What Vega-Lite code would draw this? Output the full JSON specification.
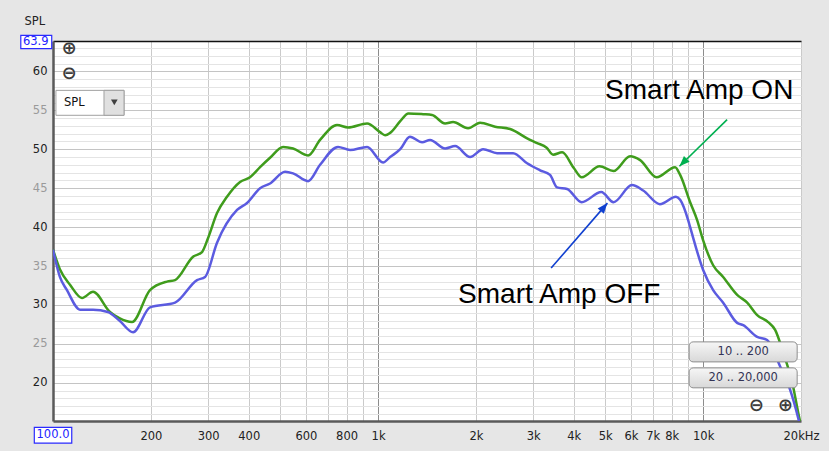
{
  "$schema": "https://vega.github.io/schema/vega-lite/v6.json",
  "width": 748,
  "height": 380,
  "autosize": {"type": "none"},
  "padding": {"left": 53, "top": 41, "right": 28, "bottom": 30},
  "background": "#e6e6e6",
  "config": {"view": {"fill": "white", "stroke": null}, "font": "DejaVu Sans"},
  "datasets": {
    "curves": [
      {"s": "Smart Amp ON", "f": 100, "db": 37.1},
      {"s": "Smart Amp ON", "f": 105, "db": 34.6},
      {"s": "Smart Amp ON", "f": 112.8, "db": 32.6},
      {"s": "Smart Amp ON", "f": 122.8, "db": 30.9},
      {"s": "Smart Amp ON", "f": 132.8, "db": 31.7},
      {"s": "Smart Amp ON", "f": 149.7, "db": 29.1},
      {"s": "Smart Amp ON", "f": 160, "db": 28.3},
      {"s": "Smart Amp ON", "f": 175, "db": 27.8},
      {"s": "Smart Amp ON", "f": 198.8, "db": 31.9},
      {"s": "Smart Amp ON", "f": 224.2, "db": 33.0},
      {"s": "Smart Amp ON", "f": 237.4, "db": 33.2},
      {"s": "Smart Amp ON", "f": 269.7, "db": 36.2},
      {"s": "Smart Amp ON", "f": 287.4, "db": 36.8},
      {"s": "Smart Amp ON", "f": 300, "db": 38.6},
      {"s": "Smart Amp ON", "f": 319.6, "db": 41.8},
      {"s": "Smart Amp ON", "f": 343, "db": 43.9},
      {"s": "Smart Amp ON", "f": 376.2, "db": 45.8},
      {"s": "Smart Amp ON", "f": 403.8, "db": 46.4},
      {"s": "Smart Amp ON", "f": 433.5, "db": 47.7},
      {"s": "Smart Amp ON", "f": 465.3, "db": 48.9},
      {"s": "Smart Amp ON", "f": 510.2, "db": 50.3},
      {"s": "Smart Amp ON", "f": 547.6, "db": 50.1},
      {"s": "Smart Amp ON", "f": 609, "db": 49.2},
      {"s": "Smart Amp ON", "f": 663.1, "db": 51.2},
      {"s": "Smart Amp ON", "f": 747.6, "db": 53.1},
      {"s": "Smart Amp ON", "f": 808.7, "db": 52.8},
      {"s": "Smart Amp ON", "f": 925, "db": 53.3},
      {"s": "Smart Amp ON", "f": 1014, "db": 52.2},
      {"s": "Smart Amp ON", "f": 1051, "db": 51.8},
      {"s": "Smart Amp ON", "f": 1089, "db": 52.1},
      {"s": "Smart Amp ON", "f": 1170, "db": 53.6},
      {"s": "Smart Amp ON", "f": 1240, "db": 54.6},
      {"s": "Smart Amp ON", "f": 1376, "db": 54.5},
      {"s": "Smart Amp ON", "f": 1466, "db": 54.4},
      {"s": "Smart Amp ON", "f": 1608, "db": 53.3},
      {"s": "Smart Amp ON", "f": 1701, "db": 53.5},
      {"s": "Smart Amp ON", "f": 1892, "db": 52.7},
      {"s": "Smart Amp ON", "f": 2060, "db": 53.4},
      {"s": "Smart Amp ON", "f": 2291, "db": 52.9},
      {"s": "Smart Amp ON", "f": 2548, "db": 52.6},
      {"s": "Smart Amp ON", "f": 2874, "db": 51.4},
      {"s": "Smart Amp ON", "f": 3085, "db": 50.8},
      {"s": "Smart Amp ON", "f": 3300, "db": 50.2},
      {"s": "Smart Amp ON", "f": 3455, "db": 49.3},
      {"s": "Smart Amp ON", "f": 3684, "db": 49.6},
      {"s": "Smart Amp ON", "f": 4000, "db": 47.6},
      {"s": "Smart Amp ON", "f": 4230, "db": 46.4},
      {"s": "Smart Amp ON", "f": 4800, "db": 47.8},
      {"s": "Smart Amp ON", "f": 5300, "db": 47.2},
      {"s": "Smart Amp ON", "f": 5960, "db": 49.1},
      {"s": "Smart Amp ON", "f": 6402, "db": 48.6},
      {"s": "Smart Amp ON", "f": 7190, "db": 46.4},
      {"s": "Smart Amp ON", "f": 8200, "db": 47.7},
      {"s": "Smart Amp ON", "f": 8497, "db": 46.7},
      {"s": "Smart Amp ON", "f": 9120, "db": 43.2},
      {"s": "Smart Amp ON", "f": 9583, "db": 40.9},
      {"s": "Smart Amp ON", "f": 10000, "db": 38.3},
      {"s": "Smart Amp ON", "f": 10735, "db": 35.1},
      {"s": "Smart Amp ON", "f": 11523, "db": 33.6},
      {"s": "Smart Amp ON", "f": 12724, "db": 31.3},
      {"s": "Smart Amp ON", "f": 13660, "db": 30.3},
      {"s": "Smart Amp ON", "f": 14665, "db": 28.7},
      {"s": "Smart Amp ON", "f": 15849, "db": 27.8},
      {"s": "Smart Amp ON", "f": 16652, "db": 26.8},
      {"s": "Smart Amp ON", "f": 17630, "db": 23.9},
      {"s": "Smart Amp ON", "f": 18918, "db": 19.5},
      {"s": "Smart Amp ON", "f": 19602, "db": 16.2},
      {"s": "Smart Amp ON", "f": 20000, "db": 14.5},
      {"s": "Smart Amp OFF", "f": 100, "db": 37.1},
      {"s": "Smart Amp OFF", "f": 105, "db": 33.6},
      {"s": "Smart Amp OFF", "f": 110.4, "db": 31.9},
      {"s": "Smart Amp OFF", "f": 121.1, "db": 29.4},
      {"s": "Smart Amp OFF", "f": 132.8, "db": 29.4},
      {"s": "Smart Amp OFF", "f": 147.6, "db": 29.1},
      {"s": "Smart Amp OFF", "f": 160, "db": 28.0},
      {"s": "Smart Amp OFF", "f": 176.3, "db": 26.5},
      {"s": "Smart Amp OFF", "f": 198.8, "db": 29.7},
      {"s": "Smart Amp OFF", "f": 237.4, "db": 30.3},
      {"s": "Smart Amp OFF", "f": 277.4, "db": 33.2},
      {"s": "Smart Amp OFF", "f": 293.6, "db": 33.6},
      {"s": "Smart Amp OFF", "f": 319.6, "db": 38.0},
      {"s": "Smart Amp OFF", "f": 368.3, "db": 42.2},
      {"s": "Smart Amp OFF", "f": 395.3, "db": 43.1},
      {"s": "Smart Amp OFF", "f": 433.5, "db": 45.0},
      {"s": "Smart Amp OFF", "f": 465.3, "db": 45.6},
      {"s": "Smart Amp OFF", "f": 517.5, "db": 47.1},
      {"s": "Smart Amp OFF", "f": 547.6, "db": 46.9},
      {"s": "Smart Amp OFF", "f": 609, "db": 45.9},
      {"s": "Smart Amp OFF", "f": 663.1, "db": 48.0},
      {"s": "Smart Amp OFF", "f": 753, "db": 50.3},
      {"s": "Smart Amp OFF", "f": 820.2, "db": 49.9},
      {"s": "Smart Amp OFF", "f": 925, "db": 50.3},
      {"s": "Smart Amp OFF", "f": 1036, "db": 48.3},
      {"s": "Smart Amp OFF", "f": 1089, "db": 49.0},
      {"s": "Smart Amp OFF", "f": 1170, "db": 50.0},
      {"s": "Smart Amp OFF", "f": 1253, "db": 51.6},
      {"s": "Smart Amp OFF", "f": 1366, "db": 50.9},
      {"s": "Smart Amp OFF", "f": 1445, "db": 51.2},
      {"s": "Smart Amp OFF", "f": 1608, "db": 50.1},
      {"s": "Smart Amp OFF", "f": 1726, "db": 50.4},
      {"s": "Smart Amp OFF", "f": 1919, "db": 49.0},
      {"s": "Smart Amp OFF", "f": 2104, "db": 50.0},
      {"s": "Smart Amp OFF", "f": 2324, "db": 49.5},
      {"s": "Smart Amp OFF", "f": 2603, "db": 49.5},
      {"s": "Smart Amp OFF", "f": 2874, "db": 48.2},
      {"s": "Smart Amp OFF", "f": 3150, "db": 47.3},
      {"s": "Smart Amp OFF", "f": 3380, "db": 46.7},
      {"s": "Smart Amp OFF", "f": 3554, "db": 45.1},
      {"s": "Smart Amp OFF", "f": 3815, "db": 44.9},
      {"s": "Smart Amp OFF", "f": 4230, "db": 43.2},
      {"s": "Smart Amp OFF", "f": 4860, "db": 44.5},
      {"s": "Smart Amp OFF", "f": 5300, "db": 43.2},
      {"s": "Smart Amp OFF", "f": 6040, "db": 45.4},
      {"s": "Smart Amp OFF", "f": 6540, "db": 44.7},
      {"s": "Smart Amp OFF", "f": 7360, "db": 42.95},
      {"s": "Smart Amp OFF", "f": 8250, "db": 43.9},
      {"s": "Smart Amp OFF", "f": 8497, "db": 43.5},
      {"s": "Smart Amp OFF", "f": 8991, "db": 40.9},
      {"s": "Smart Amp OFF", "f": 9120, "db": 40.0},
      {"s": "Smart Amp OFF", "f": 10000, "db": 34.5},
      {"s": "Smart Amp OFF", "f": 10735, "db": 31.9},
      {"s": "Smart Amp OFF", "f": 11523, "db": 30.3},
      {"s": "Smart Amp OFF", "f": 12724, "db": 27.7},
      {"s": "Smart Amp OFF", "f": 13278, "db": 27.4},
      {"s": "Smart Amp OFF", "f": 14665, "db": 25.9},
      {"s": "Smart Amp OFF", "f": 15736, "db": 25.5},
      {"s": "Smart Amp OFF", "f": 17256, "db": 22.1},
      {"s": "Smart Amp OFF", "f": 18520, "db": 19.1},
      {"s": "Smart Amp OFF", "f": 19602, "db": 15.5},
      {"s": "Smart Amp OFF", "f": 20000, "db": 14.0}
    ]
  },
  "layer": [
    {
      "data": {"name": "curves"},
      "mark": {"type": "line", "interpolate": "monotone", "strokeWidth": 2.5, "clip": true},
      "encoding": {
        "x": {
          "field": "f", "type": "quantitative",
          "scale": {"type": "log", "domain": [100, 20000], "nice": false},
          "axis": {
            "title": null,
            "tickCount": 200,
            "values": [100, 200, 300, 400, 500, 600, 700, 800, 900, 1000, 2000, 3000, 4000, 5000, 6000, 7000, 8000, 9000, 10000, 20000],
            "labelExpr": "datum.value == 100 || datum.value == 500 || datum.value == 700 || datum.value == 900 || datum.value == 9000 ? '' : datum.value == 20000 ? '20kHz' : datum.value >= 1000 ? (datum.value / 1000) + 'k' : '' + datum.value",
            "grid": true,
            "gridColor": {"condition": {"test": "datum.value == 1000 || datum.value == 10000", "value": "#8c8c8c"}, "value": "#cacaca"},
            "gridWidth": 1,
            "ticks": false,
            "tickSize": 0,
            "domainColor": "#5a5a5a",
            "domainWidth": 2.5,
            "labelFont": "DejaVu Sans",
            "labelFontSize": 11.5,
            "labelColor": "#222222",
            "labelPadding": 9,
            "labelOverlap": false,
            "labelFlush": false,
            "labelBound": false
          }
        },
        "y": {
          "field": "db", "type": "quantitative",
          "scale": {"domain": [15.1, 63.9], "nice": false, "zero": false},
          "axis": {
            "title": "SPL",
            "titleAngle": 0,
            "titleAlign": "left",
            "titleBaseline": "middle",
            "titleX": -29,
            "titleY": -20,
            "titleFont": "DejaVu Sans",
            "titleFontSize": 11.5,
            "titleFontWeight": "normal",
            "titleColor": "#222222",
            "tickCount": 200,
            "values": [16, 17, 18, 19, 20, 21, 22, 23, 24, 25, 26, 27, 28, 29, 30, 31, 32, 33, 34, 35, 36, 37, 38, 39, 40, 41, 42, 43, 44, 45, 46, 47, 48, 49, 50, 51, 52, 53, 54, 55, 56, 57, 58, 59, 60, 61, 62, 63, 63.9],
            "labelExpr": "datum.value % 5 == 0 ? '' + datum.value : ''",
            "labelColor": {"condition": {"test": "datum.value % 10 == 0", "value": "#222222"}, "value": "#9a9a9a"},
            "gridColor": {"condition": [{"test": "datum.value == 63.9", "value": "#111111"}, {"test": "datum.value % 5 == 0", "value": "#c4c4c4"}], "value": "#e4e4e4"},
            "gridWidth": {"condition": {"test": "datum.value == 63.9", "value": 1.5}, "value": 1},
            "grid": true,
            "ticks": false,
            "tickSize": 0,
            "domainColor": "#5a5a5a",
            "domainWidth": 2.5,
            "labelFont": "DejaVu Sans",
            "labelFontSize": 11.5,
            "labelPadding": 6,
            "labelOverlap": false,
            "labelBound": false
          }
        },
        "color": {
          "field": "s", "type": "nominal",
          "scale": {"domain": ["Smart Amp ON", "Smart Amp OFF"], "range": ["#3f9c1c", "#5b5be0"]},
          "legend": null
        }
      }
    },
    {
      "data": {"values": [{"f": 11850, "db": 53.8, "f2": 8456, "db2": 47.82}]},
      "mark": {"type": "rule", "color": "#00b050", "strokeWidth": 1.6},
      "encoding": {
        "x": {"field": "f", "type": "quantitative"},
        "x2": {"field": "f2"},
        "y": {"field": "db", "type": "quantitative"},
        "y2": {"field": "db2"}
      }
    },
    {
      "data": {"values": [{"f": 8456, "db": 47.82}]},
      "mark": {"type": "point", "shape": "M0,0L-0.45,1.15L0.45,1.15Z", "filled": true, "color": "#00b050", "opacity": 1, "size": 324, "angle": 225},
      "encoding": {
        "x": {"field": "f", "type": "quantitative"},
        "y": {"field": "db", "type": "quantitative"}
      }
    },
    {
      "data": {"values": [{"f": 3407, "db": 34.74, "f2": 5076, "db2": 43.08}]},
      "mark": {"type": "rule", "color": "#1040d0", "strokeWidth": 1.6},
      "encoding": {
        "x": {"field": "f", "type": "quantitative"},
        "x2": {"field": "f2"},
        "y": {"field": "db", "type": "quantitative"},
        "y2": {"field": "db2"}
      }
    },
    {
      "data": {"values": [{"f": 5076, "db": 43.08}]},
      "mark": {"type": "point", "shape": "M0,0L-0.45,1.15L0.45,1.15Z", "filled": true, "color": "#1040d0", "opacity": 1, "size": 324, "angle": 40},
      "encoding": {
        "x": {"field": "f", "type": "quantitative"},
        "y": {"field": "db", "type": "quantitative"}
      }
    },
    {
      "data": {"values": [{"f": 4993, "db": 56.41, "t": "Smart Amp ON"}, {"f": 1763, "db": 30.26, "t": "Smart Amp OFF"}]},
      "mark": {"type": "text", "align": "left", "baseline": "alphabetic", "font": "Liberation Sans", "fontSize": 28, "color": "#000000"},
      "encoding": {
        "x": {"field": "f", "type": "quantitative"},
        "y": {"field": "db", "type": "quantitative"},
        "text": {"field": "t"}
      }
    },
    {
      "data": {"values": [{"f1": 79.6, "f2": 99.1, "d1": 62.91, "d2": 64.62}, {"f1": 87.6, "f2": 114.2, "d1": 12.27, "d2": 14.27}]},
      "mark": {"type": "rect", "fill": "white", "stroke": "#2a2aff", "strokeWidth": 1.2},
      "encoding": {
        "x": {"field": "f1", "type": "quantitative"},
        "x2": {"field": "f2"},
        "y": {"field": "d1", "type": "quantitative"},
        "y2": {"field": "d2"}
      }
    },
    {
      "data": {"values": [{"f": 88.5, "db": 63.8, "t": "63.9"}, {"f": 100, "db": 13.27, "t": "100.0"}]},
      "mark": {"type": "text", "align": "center", "baseline": "middle", "font": "DejaVu Sans", "fontSize": 11.5, "color": "#2424ff"},
      "encoding": {
        "x": {"field": "f", "type": "quantitative"},
        "y": {"field": "db", "type": "quantitative"},
        "text": {"field": "t"}
      }
    },
    {
      "data": {"values": [{"f1": 102.1, "f2": 165.4, "d1": 54.36, "d2": 57.56}]},
      "mark": {"type": "rect", "fill": "white", "stroke": "#a0a0a0", "strokeWidth": 1},
      "encoding": {
        "x": {"field": "f1", "type": "quantitative"},
        "x2": {"field": "f2"},
        "y": {"field": "d1", "type": "quantitative"},
        "y2": {"field": "d2"}
      }
    },
    {
      "data": {"values": [{"f1": 143.5, "f2": 165.4, "d1": 54.36, "d2": 57.56}]},
      "mark": {"type": "rect", "fill": "#e0e0e0", "stroke": "#a0a0a0", "strokeWidth": 1},
      "encoding": {
        "x": {"field": "f1", "type": "quantitative"},
        "x2": {"field": "f2"},
        "y": {"field": "d1", "type": "quantitative"},
        "y2": {"field": "d2"}
      }
    },
    {
      "data": {"values": [{"f": 154.4, "db": 56.03}]},
      "mark": {"type": "point", "shape": "triangle-down", "filled": true, "color": "#404040", "opacity": 1, "size": 45},
      "encoding": {
        "x": {"field": "f", "type": "quantitative"},
        "y": {"field": "db", "type": "quantitative"}
      }
    },
    {
      "data": {"values": [{"f": 108.1, "db": 55.9, "t": "SPL"}]},
      "mark": {"type": "text", "align": "left", "baseline": "middle", "font": "DejaVu Sans", "fontSize": 11.5, "color": "#111111"},
      "encoding": {
        "x": {"field": "f", "type": "quantitative"},
        "y": {"field": "db", "type": "quantitative"},
        "text": {"field": "t"}
      }
    },
    {
      "data": {"values": [{"f1": 9056, "f2": 19463, "d1": 22.69, "d2": 25.26}, {"f1": 9056, "f2": 19463, "d1": 19.36, "d2": 21.92}]},
      "mark": {
        "type": "rect", "cornerRadius": 4, "stroke": "#8c8c8c", "strokeWidth": 1,
        "fill": {"gradient": "linear", "x1": 0, "y1": 0, "x2": 0, "y2": 1, "stops": [{"offset": 0, "color": "#f6f6f6"}, {"offset": 1, "color": "#d8d8d8"}]}
      },
      "encoding": {
        "x": {"field": "f1", "type": "quantitative"},
        "x2": {"field": "f2"},
        "y": {"field": "d1", "type": "quantitative"},
        "y2": {"field": "d2"}
      }
    },
    {
      "data": {"values": [{"f": 13278, "db": 23.97, "t": "10 .. 200"}, {"f": 13278, "db": 20.64, "t": "20 .. 20,000"}]},
      "mark": {"type": "text", "align": "center", "baseline": "middle", "font": "DejaVu Sans", "fontSize": 11.5, "color": "#333355"},
      "encoding": {
        "x": {"field": "f", "type": "quantitative"},
        "y": {"field": "db", "type": "quantitative"},
        "text": {"field": "t"}
      }
    },
    {
      "data": {"values": [{"f": 112, "db": 62.91, "t": "⊕"}, {"f": 112, "db": 59.62, "t": "⊖"}, {"f": 14560, "db": 17.05, "t": "⊖"}, {"f": 17880, "db": 17.05, "t": "⊕"}]},
      "mark": {"type": "text", "align": "center", "baseline": "middle", "font": "DejaVu Sans", "fontSize": 18, "fontWeight": "bold", "color": "#3c3c3c"},
      "encoding": {
        "x": {"field": "f", "type": "quantitative"},
        "y": {"field": "db", "type": "quantitative"},
        "text": {"field": "t"}
      }
    }
  ]
}
